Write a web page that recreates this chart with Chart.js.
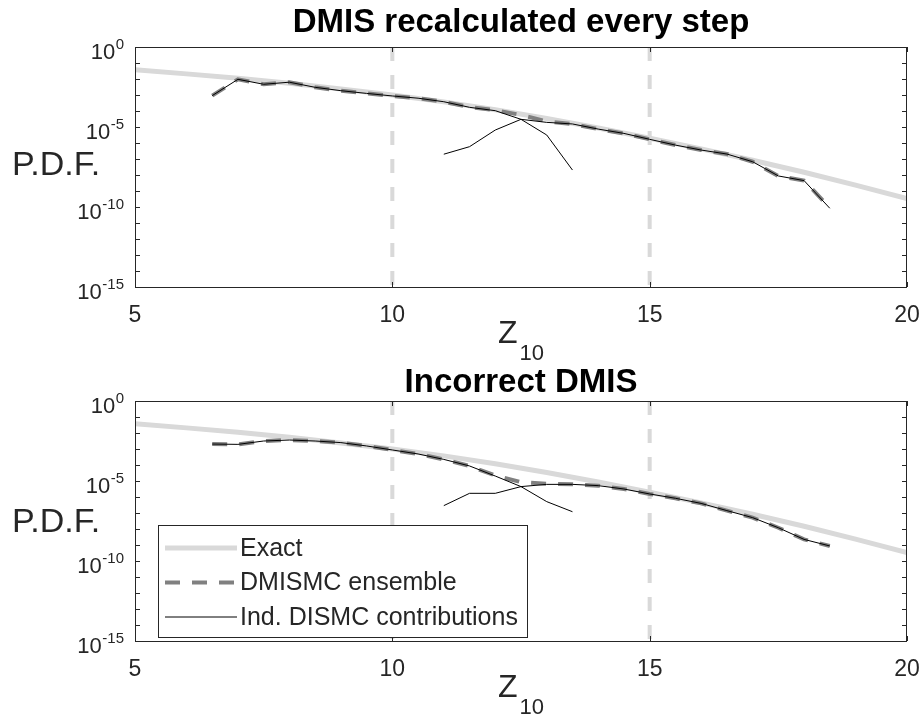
<!DOCTYPE html>
<html>
<head>
<meta charset="utf-8">
<script src="https://cdn.jsdelivr.net/npm/chart.js@4.4.1/dist/chart.umd.min.js"></script>
<style>
  html, body { margin: 0; padding: 0; background: #ffffff; }
  #wrap { position: relative; width: 923px; height: 721px; }
  canvas { position: absolute; left: 0; }
</style>
</head>
<body>
<div id="wrap">
  <canvas id="c1" width="923" height="360" style="top:0px"></canvas>
  <canvas id="c2" width="923" height="361" style="top:360px"></canvas>
</div>
<script>
// ---------------- DATA (log10 of P.D.F.) ----------------
const exactZ   = [5, 6, 7, 8, 9, 10, 11, 12, 13, 14, 15, 16, 17, 18, 19, 20];
const exactLog = [-1.42, -1.68, -1.96, -2.27, -2.62, -3.0, -3.43, -3.92, -4.47, -5.06, -5.7, -6.37, -7.08, -7.83, -8.63, -9.47];

const ensZ = [6.5, 7, 7.5, 8, 8.5, 9, 9.5, 10, 10.5, 11, 11.5, 12, 12.5, 13, 13.5, 14, 14.5, 15, 15.5, 16, 16.5, 17, 17.5, 18, 18.5];

// Top panel: "DMIS recalculated every step"
const topEnsembleLog = [-3.04, -2.02, -2.33, -2.2, -2.52, -2.73, -2.9, -3.06, -3.2, -3.42, -3.76, -3.95, -4.25, -4.65, -4.81, -5.13, -5.4, -5.77, -6.13, -6.44, -6.69, -7.17, -8.06, -8.35, -10.05];
const topContribAZ   = [6.5, 7, 7.5, 8, 8.5, 9, 9.5, 10, 10.5, 11, 11.5, 12, 12.5];
const topContribALog = [-3.04, -2.02, -2.33, -2.2, -2.52, -2.73, -2.9, -3.06, -3.2, -3.42, -3.77, -3.98, -4.52];
const topContribBZ   = [11, 11.5, 12, 12.5, 13, 13.5];
const topContribBLog = [-6.7, -6.23, -5.19, -4.52, -5.5, -7.69];
const topContribCZ   = [12.5, 13, 13.5, 14, 14.5, 15, 15.5, 16, 16.5, 17, 17.5, 18, 18.5];
const topContribCLog = [-4.52, -4.71, -4.81, -5.13, -5.4, -5.77, -6.13, -6.44, -6.69, -7.17, -8.06, -8.35, -10.08];

// Bottom panel: "Incorrect DMIS"
const botEnsembleLog = [-2.69, -2.71, -2.5, -2.44, -2.5, -2.6, -2.81, -3.06, -3.31, -3.65, -4.06, -4.66, -5.07, -5.18, -5.2, -5.29, -5.5, -5.81, -6.08, -6.4, -6.85, -7.29, -7.92, -8.65, -9.06];
const botContribAZ   = [6.5, 7, 7.5, 8, 8.5, 9, 9.5, 10, 10.5, 11, 11.5, 12, 12.5, 13, 13.5];
const botContribALog = [-2.69, -2.71, -2.5, -2.44, -2.5, -2.6, -2.81, -3.06, -3.31, -3.65, -4.06, -4.69, -5.35, -6.29, -6.92];
const botContribBZ   = [11, 11.5, 12, 12.5, 13, 13.5, 14, 14.5, 15, 15.5, 16, 16.5, 17, 17.5, 18, 18.5];
const botContribBLog = [-6.54, -5.77, -5.77, -5.35, -5.21, -5.21, -5.29, -5.5, -5.81, -6.08, -6.4, -6.85, -7.29, -7.92, -8.65, -9.06];

const markerZ = [10, 15];             // vertical dashed markers
const xTicks = [5, 10, 15, 20];
const yTickExp = [0, -5, -10, -15];   // labelled decades
const titles = ['DMIS recalculated every step', 'Incorrect DMIS'];
const legendLabels = ['Exact', 'DMISMC ensemble', 'Ind. DISMC contributions'];

// ---------------- helpers ----------------
const FONT = '"Liberation Sans", Arial, Helvetica, sans-serif';
const AXC = '#262626';
function pts(zs, logs) { return zs.map((z, i) => ({ x: z, y: Math.pow(10, logs[i]) })); }

function styleExact()   { return { borderColor: '#d9d9d9', borderWidth: 5, order: 3 }; }
function styleEns()     { return { borderColor: '#808080', borderWidth: 4, borderDash: [15, 12], order: 2 }; }
function styleContrib() { return { borderColor: '#000000', borderWidth: 1, order: 1 }; }

function buildDatasets(ensLog, contribs) {
  const ds = [];
  markerZ.forEach(z => ds.push({
    label: 'marker', data: [{ x: z, y: 1 }, { x: z, y: 1e-15 }],
    borderColor: '#d9d9d9', borderWidth: 4, borderDash: [14, 14], order: 4
  }));
  ds.push(Object.assign({ label: legendLabels[0], data: pts(exactZ, exactLog) }, styleExact()));
  ds.push(Object.assign({ label: legendLabels[1], data: pts(ensZ, ensLog) }, styleEns()));
  contribs.forEach(c => ds.push(Object.assign({ label: legendLabels[2], data: pts(c[0], c[1]) }, styleContrib())));
  ds.forEach(d => { d.showLine = true; d.pointRadius = 0; d.fill = false; d.tension = 0; d.borderCapStyle = 'butt'; });
  return ds;
}

function decorPlugin(opts) {
  return {
    id: 'decor',
    afterDraw(chart) {
      const ctx = chart.ctx, a = chart.chartArea;
      const xs = chart.scales.x, ys = chart.scales.y;
      ctx.save();
      // frame
      ctx.strokeStyle = AXC; ctx.lineWidth = 1;
      ctx.strokeRect(Math.round(a.left) + 0.5, Math.round(a.top) + 0.5, Math.round(a.right - a.left) - 1, Math.round(a.bottom - a.top));
      // ticks
      ctx.beginPath();
      for (let k = 0; k >= -15; k--) {
        const y = Math.round(ys.getPixelForValue(Math.pow(10, k))) + 0.5;
        ctx.moveTo(a.left, y); ctx.lineTo(a.left + 5, y);
        ctx.moveTo(a.right, y); ctx.lineTo(a.right - 5, y);
      }
      xTicks.forEach(v => {
        const x = Math.round(xs.getPixelForValue(v)) + 0.5;
        ctx.moveTo(x, a.bottom); ctx.lineTo(x, a.bottom - 5);
        ctx.moveTo(x, a.top); ctx.lineTo(x, a.top + 5);
      });
      ctx.stroke();
      // y tick labels 10^k
      ctx.fillStyle = AXC;
      yTickExp.forEach(k => {
        const y = ys.getPixelForValue(Math.pow(10, k));
        ctx.font = '15px ' + FONT;
        const sup = String(k);
        const sw = ctx.measureText(sup).width;
        const supX = a.left - 11 - sw;
        ctx.textAlign = 'left'; ctx.textBaseline = 'alphabetic';
        ctx.fillText(sup, supX, y + 2);
        ctx.font = '22px ' + FONT;
        ctx.textAlign = 'right';
        ctx.fillText('10', supX - 0.5, y + 12);
      });
      // x tick labels
      ctx.font = '23px ' + FONT; ctx.textAlign = 'center'; ctx.textBaseline = 'alphabetic';
      xTicks.forEach(v => ctx.fillText(String(v), xs.getPixelForValue(v), a.bottom + 35));
      // x axis label Z_10
      const cx = (a.left + a.right) / 2;
      ctx.font = '32px ' + FONT;
      const zw = ctx.measureText('Z').width;
      ctx.font = '22px ' + FONT;
      const sw2 = ctx.measureText('10').width;
      const startX = cx - (zw + sw2 + 2) / 2;
      ctx.textAlign = 'left';
      ctx.font = '32px ' + FONT;
      ctx.fillText('Z', startX, a.bottom + 56);
      ctx.font = '22px ' + FONT;
      ctx.fillText('10', startX + zw + 2, a.bottom + 73);
      // y axis label
      ctx.font = '34px ' + FONT; ctx.textAlign = 'left'; ctx.textBaseline = 'middle';
      ctx.fillText('P.D.F.', 12, opts.pdfY);
      // title
      ctx.fillStyle = '#000000';
      ctx.font = 'bold 33px ' + FONT; ctx.textAlign = 'center'; ctx.textBaseline = 'middle';
      ctx.fillText(opts.title, cx, opts.titleY);
      // legend
      if (opts.legend) {
        const L = opts.legend;
        ctx.fillStyle = '#ffffff';
        ctx.fillRect(L.x, L.y, L.w, L.h);
        ctx.strokeStyle = AXC; ctx.lineWidth = 1;
        ctx.strokeRect(L.x + 0.5, L.y + 0.5, L.w, L.h);
        const styles = [styleExact(), styleEns(), styleContrib()];
        ctx.font = '25px ' + FONT; ctx.textAlign = 'left'; ctx.textBaseline = 'middle';
        legendLabels.forEach((lab, i) => {
          const yy = L.y + 23 + i * 34.5;
          const s = styles[i];
          ctx.save();
          ctx.strokeStyle = s.borderColor; ctx.lineWidth = s.borderWidth;
          ctx.setLineDash(s.borderDash || []);
          ctx.beginPath(); ctx.moveTo(L.x + 7, yy); ctx.lineTo(L.x + 79, yy); ctx.stroke();
          ctx.restore();
          ctx.fillStyle = AXC;
          ctx.fillText(lab, L.x + 82, yy + 1);
        });
      }
      ctx.restore();
    }
  };
}

function makePanel(id, datasets, o) {
  return new Chart(document.getElementById(id), {
    type: 'scatter',
    data: { datasets },
    options: {
      responsive: false, animation: false, devicePixelRatio: 1,
      layout: { padding: { left: 0, right: 16, top: o.padTop, bottom: 0 } },
      plugins: { legend: { display: false }, tooltip: { enabled: false }, title: { display: false } },
      scales: {
        x: { type: 'linear', min: 5, max: 20,
             ticks: { display: false }, grid: { display: false }, border: { display: false },
             afterFit: s => { s.height = o.xAxisH; } },
        y: { type: 'logarithmic', min: 1e-15, max: 1,
             ticks: { display: false }, grid: { display: false }, border: { display: false },
             afterFit: s => { s.width = 135; } }
      }
    },
    plugins: [decorPlugin(o)]
  });
}

makePanel('c1',
  buildDatasets(topEnsembleLog, [[topContribAZ, topContribALog], [topContribBZ, topContribBLog], [topContribCZ, topContribCLog]]),
  { padTop: 47, xAxisH: 73, title: titles[0], titleY: 23, pdfY: 166 });

makePanel('c2',
  buildDatasets(botEnsembleLog, [[botContribAZ, botContribALog], [botContribBZ, botContribBLog]]),
  { padTop: 41, xAxisH: 80, title: titles[1], titleY: 23, pdfY: 163,
    legend: { x: 158, y: 165, w: 369, h: 112 } });
</script>
</body>
</html>
